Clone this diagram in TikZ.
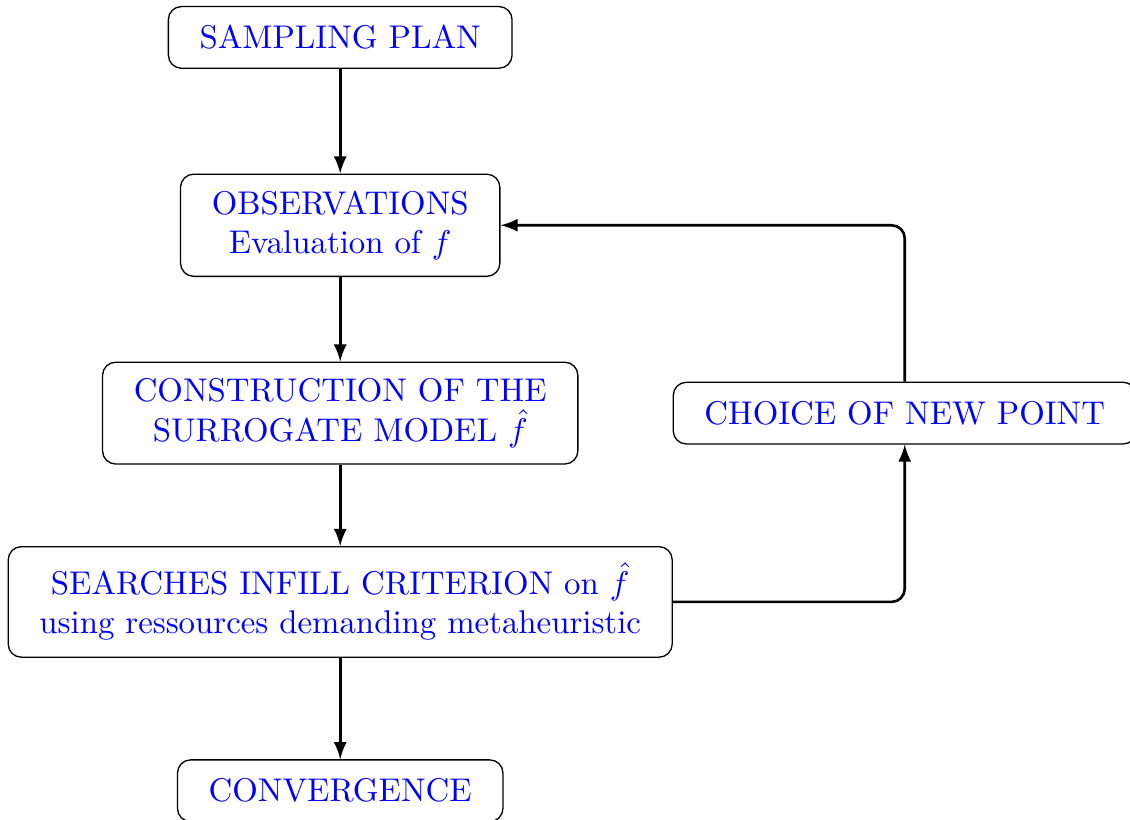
\documentclass[tikz,border=0pt]{standalone}
\usepackage{amssymb}
\usepackage{amsmath}
\usepackage{tikz}

\begin{document}
\begin{tikzpicture}[box/.style = {draw, rounded corners, align = center, text = blue, inner xsep = 9.5pt, inner ysep = 5pt, minimum height = 0.66cm},
 flow/.style = {thick, -latex}]
\useasboundingbox (0, 0) rectangle (12.09, -8.77);
\node[box] (plan) at (3.64, -0.4) {SAMPLING PLAN};
\node[box] (obs) at (3.64, -2.41) {OBSERVATIONS\\Evaluation of $f$};
\node[box] (model) at (3.64, -4.42) {CONSTRUCTION OF THE\\SURROGATE MODEL $\hat{f}$};
\node[box] (search) at (3.64, -6.44) {SEARCHES INFILL CRITERION on $\hat{f}$\\using ressources demanding metaheuristic};
\node[box] (conv) at (3.64, -8.46) {CONVERGENCE};
\node[box] (choice) at (9.68, -4.42) {CHOICE OF NEW POINT};
\draw[flow] (plan) -- (obs);
\draw[flow] (obs) -- (model);
\draw[flow] (model) -- (search);
\draw[flow] (search) -- (conv);
\draw[flow, rounded corners] (search.east) -| (choice.south);
\draw[flow, rounded corners] (choice.north) |- (obs.east);
\end{tikzpicture}
\end{document}
